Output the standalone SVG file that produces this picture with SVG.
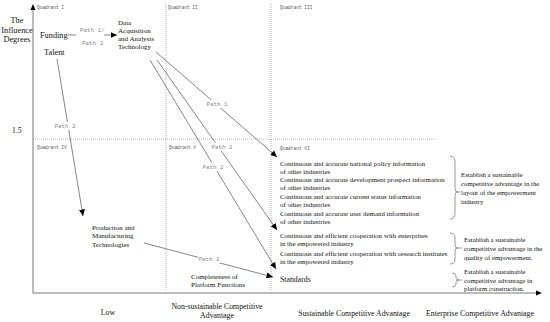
<svg xmlns="http://www.w3.org/2000/svg" width="550" height="322" viewBox="0 0 550 322">
<defs>
<marker id="arr" markerUnits="userSpaceOnUse" markerWidth="7" markerHeight="6" refX="6.5" refY="3" orient="auto">
<path d="M0,0 L6.5,3 L0,6 z" fill="#000"/>
</marker>
<style>
.t{font-family:"Liberation Serif","Times New Roman",serif;fill:#111;}
.s{font-size:6.9px;}
.r{font-size:6.8px;}
.m{font-size:7px;}
.b{font-size:8.3px;}
.ax{font-size:7.8px;}
.q{font-family:"Liberation Mono","Courier New",monospace;font-size:4.5px;fill:#555;}
.p{font-family:"Liberation Mono","Courier New",monospace;font-size:5.9px;fill:#888;}
.c{stroke:#333;stroke-width:0.6;fill:none;}
.ca{stroke:#333;stroke-width:0.6;fill:none;marker-end:url(#arr);}
.d{stroke:#999;stroke-width:0.7;stroke-dasharray:1,1;fill:none;}
.axis{stroke:#777;stroke-width:1;fill:none;}
.br{stroke:#555;stroke-width:0.6;fill:none;}
.bg{fill:#fff;}
</style>
</defs>
<rect width="550" height="322" fill="#fff"/>

<g id="grid">
<line class="d" x1="166" y1="3" x2="166" y2="290"/>
<line class="d" x1="271" y1="3" x2="271" y2="290"/>
<line class="d" x1="33" y1="139" x2="437" y2="139"/>
</g>

<g id="axes">
<line class="axis" x1="33" y1="293" x2="33" y2="10"/>
<path d="M30.5,10 L33,4 L35.5,10 z" fill="#000"/>
<line class="axis" x1="33" y1="293" x2="536" y2="293"/>
<path d="M536,290.5 L542,293 L536,295.5 z" fill="#000"/>
<text class="t b" text-anchor="middle"><tspan x="17" y="23">The</tspan><tspan x="17" y="32.5">Influence</tspan><tspan x="17" y="42">Degrees</tspan></text>
<text class="t" font-size="7.5" x="12" y="133">1.5</text>
<text class="t ax" x="108" y="314.5" text-anchor="middle">Low</text>
<text class="t ax" text-anchor="middle"><tspan x="217" y="308.5">Non-sustainable Competitive</tspan><tspan x="217" y="317.5">Advantage</tspan></text>
<text class="t ax" x="354" y="315.5" text-anchor="middle">Sustainable Competitive Advantage</text>
<text class="t ax" x="480" y="315.5" text-anchor="middle">Enterprise Competitive Advantage</text>
</g>

<g id="quadrants">
<text class="q" x="37" y="9">Quadrant I</text>
<text class="q" x="168" y="9">Quadrant II</text>
<text class="q" x="280" y="9">Quadrant III</text>
<text class="q" x="37" y="148.5">Quadrant IV</text>
<text class="q" x="169" y="148.5">Quadrant V</text>
<text class="q" x="280" y="150">Quadrant VI</text>
</g>

<g id="connectors">
<line class="c" x1="67.5" y1="35" x2="76" y2="35"/>
<line class="ca" x1="104" y1="35" x2="117" y2="35"/>
<text class="p" x="80" y="32">Path 1/</text>
<text class="p" x="82" y="45">Path 2</text>

<line class="ca" x1="57" y1="59" x2="83" y2="216"/>
<rect class="bg" x="54" y="122" width="22" height="8"/>
<text class="p" x="65" y="128" text-anchor="middle">Path 2</text>

<line class="ca" x1="156" y1="52" x2="277" y2="157"/>
<rect class="bg" x="206" y="100" width="22" height="8"/>
<text class="p" x="217" y="106" text-anchor="middle">Path 1</text>

<line class="ca" x1="157" y1="60" x2="277" y2="230"/>
<rect class="bg" x="211" y="143" width="22" height="8"/>
<text class="p" x="222" y="149" text-anchor="middle">Path 1</text>

<line class="ca" x1="150" y1="60" x2="276" y2="269"/>
<rect class="bg" x="202" y="163" width="22" height="8"/>
<text class="p" x="213" y="169" text-anchor="middle">Path 2</text>

<line class="ca" x1="144" y1="243" x2="273" y2="277"/>
<rect class="bg" x="198" y="255" width="22" height="8"/>
<text class="p" x="209" y="261" text-anchor="middle">Path 2</text>
</g>

<g id="funding"><text class="t b" x="40" y="38">Funding</text></g>
<g id="talent"><text class="t b" x="44" y="55">Talent</text></g>
<g id="data-tech">
<text class="t m"><tspan x="118" y="24.5">Data</tspan><tspan x="118" y="32.5">Acquisition</tspan><tspan x="118" y="40.5">and Analysis</tspan><tspan x="118" y="49">Technology</tspan></text>
</g>
<g id="production">
<text class="t m"><tspan x="92" y="229.5">Production and</tspan><tspan x="92" y="237.5">Manufacturing</tspan><tspan x="92" y="246.5">Technologies</tspan></text>
</g>
<g id="completeness">
<text class="t m"><tspan x="191" y="278.5">Completeness of</tspan><tspan x="191" y="286.5">Platform Functions</tspan></text>
</g>

<g id="information">
<text class="t s">
<tspan x="280" y="165.5">Continuous and accurate national policy information</tspan>
<tspan x="280" y="173.5">of other industries</tspan>
<tspan x="280" y="181.5">Continuous and accurate development prospect information</tspan>
<tspan x="280" y="189.5">of other industries</tspan>
<tspan x="280" y="198.5">Continuous and accurate current status information</tspan>
<tspan x="280" y="206.5">of other industries</tspan>
<tspan x="280" y="215.5">Continuous and accurate user demand information</tspan>
<tspan x="280" y="223.5">of other industries</tspan>
</text>
</g>
<g id="cooperation">
<text class="t s">
<tspan x="280" y="237.5">Continuous and efficient cooperation with enterprises</tspan>
<tspan x="280" y="245.5">in the empowered industry</tspan>
<tspan x="280" y="255.5">Continuous and efficient cooperation with research institutes</tspan>
<tspan x="280" y="264">in the empowered industry</tspan>
</text>
</g>
<g id="standards"><text class="t" font-size="7.8" x="280" y="282">Standards</text></g>

<g id="brace-layout">
<path class="br" d="M450,156 Q455,156 455,162 L455,188 Q455,192 458,192 Q455,192 455,196 L455,213 Q455,219 450,219 M458,192 H460"/>
<text class="t r"><tspan x="461" y="177">Establish a sustainable</tspan><tspan x="461" y="185.5">competitive advantage in the</tspan><tspan x="461" y="194.5">layout of the empowerment</tspan><tspan x="461" y="203.5">industry</tspan></text>
</g>
<g id="brace-quality">
<path class="br" d="M450,233 Q455,233 455,238 L455,245 Q455,248 458,248 Q455,248 455,251 L455,259 Q455,264 450,264 M458,248 H462"/>
<text class="t r"><tspan x="464" y="241.5">Establish a sustainable</tspan><tspan x="464" y="250.5">competitive advantage in the</tspan><tspan x="464" y="259.5">quality of empowerment.</tspan></text>
</g>
<g id="brace-platform">
<path class="br" d="M452,273 Q456,273 456,276 L456,278 Q456,280 459,280 Q456,280 456,282 L456,284 Q456,287 452,287 M459,280 H462"/>
<text class="t r"><tspan x="464" y="273.5">Establish a sustainable</tspan><tspan x="464" y="282.5">competitive advantage in</tspan><tspan x="464" y="291">platform construction.</tspan></text>
</g>
</svg>
